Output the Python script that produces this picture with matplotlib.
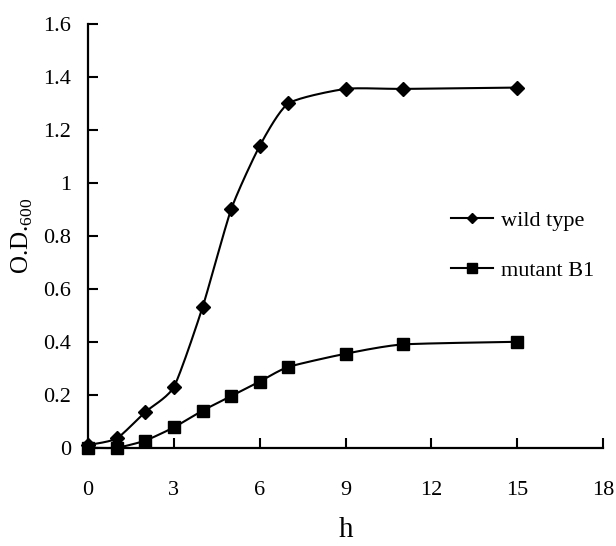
import numpy as np
import matplotlib.pyplot as plt

plt.rcParams['font.family'] = 'Liberation Serif'
plt.rcParams['mathtext.fontset'] = 'custom'
plt.rcParams['mathtext.rm'] = 'Liberation Serif'

hours = [0, 1, 2, 3, 4, 5, 6, 7, 9, 11, 15]
wild_type = [0.01, 0.035, 0.135, 0.23, 0.53, 0.90, 1.14, 1.30, 1.355, 1.355, 1.36]
mutant_b1 = [0.0, 0.0, 0.027, 0.077, 0.14, 0.195, 0.25, 0.305, 0.355, 0.39, 0.40]


def smooth(x, y, tension=0.3, n=20):
    # cardinal spline through the points, a light "smoothed line"
    x = np.asarray(x, float)
    y = np.asarray(y, float)
    px = np.concatenate([[x[0]], x, [x[-1]]])
    py = np.concatenate([[y[0]], y, [y[-1]]])
    t = np.linspace(0, 1, n)
    h00 = 2 * t ** 3 - 3 * t ** 2 + 1
    h10 = t ** 3 - 2 * t ** 2 + t
    h01 = -2 * t ** 3 + 3 * t ** 2
    h11 = t ** 3 - t ** 2
    xs, ys = [], []
    for i in range(1, len(px) - 2):
        for p, out in ((px, xs), (py, ys)):
            m1 = tension * (p[i + 1] - p[i - 1])
            m2 = tension * (p[i + 2] - p[i])
            out.extend(h00 * p[i] + h10 * m1 + h01 * p[i + 1] + h11 * m2)
    return xs, ys


fig = plt.figure(figsize=(6.16, 5.46), dpi=100)
ax = fig.add_axes([0.143, 0.18, 0.836, 0.776])

for y, mk, ms, lab in ((wild_type, 'D', 7, 'wild type'), (mutant_b1, 's', 8, 'mutant B1')):
    sx, sy = smooth(hours, y)
    ax.plot(sx, sy, color='black', lw=1.5, clip_on=False)
    ax.plot(hours, y, ls='none', marker=mk, ms=ms, color='black', clip_on=False)
    ax.plot([], [], color='black', lw=1.5, marker=mk, ms=ms - 1.5, label=lab)

ax.set_xlim(0, 18)
ax.set_ylim(0, 1.6)
ax.set_xticks(range(0, 19, 3))
ax.set_yticks(np.arange(0, 1.61, 0.2))
ax.set_yticklabels(['0', '0.2', '0.4', '0.6', '0.8', '1', '1.2', '1.4', '1.6'])
ax.tick_params(direction='in', length=7, width=1.5, labelsize=16, pad=12)
ax.tick_params(axis='x', pad=24)
for s in ('top', 'right'):
    ax.spines[s].set_visible(False)
for s in ('left', 'bottom'):
    ax.spines[s].set_linewidth(1.6)

ax.set_xlabel('h', fontsize=21, labelpad=12)
ax.set_ylabel('O.D.$_{\\mathregular{600}}$', fontsize=18, labelpad=6)

ax.legend(loc='upper left', bbox_to_anchor=(0.665, 0.608), frameon=False, fontsize=16,
          handlelength=1.9, handletextpad=0.35, labelspacing=1.35)

fig.savefig('out.png', dpi=100)
